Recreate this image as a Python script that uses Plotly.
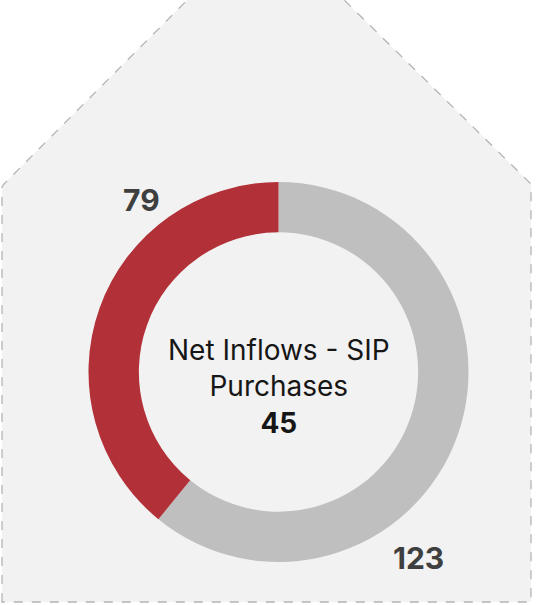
import plotly.graph_objects as go

# Donut segments
labels = ["Net Inflows", "SIP Purchases"]
values = [79, 123]
colors = ["#b23037", "#bfbfbf"]
center_title = "Net Inflows - SIP<br>Purchases"
center_value = 45

W, H = 538, 605
cx, cy, r = 278.5, 372, 190  # donut centre / outer radius in px (from top-left)


def px(x):
    return x / W


def py(y):
    return 1 - y / H


fig = go.Figure()
# Grey slice drawn first (clockwise from 12 o'clock) so the red slice
# closes the ring on the left-hand side.
fig.add_trace(go.Pie(
    labels=labels[::-1],
    values=values[::-1],
    hole=0.735,
    sort=False,
    direction="clockwise",
    rotation=0,
    marker=dict(colors=colors[::-1], line=dict(width=0)),
    textinfo="none",
    hoverinfo="label+value",
    showlegend=False,
    domain=dict(x=[px(cx - r), px(cx + r)], y=[py(cy + r), py(cy - r)]),
))

# House-shaped dashed panel behind the donut
pts = [(2, 602), (2, 187), (4, 184), (265, -78), (531, 184), (531, 602)]
path = "M " + " L ".join(f"{px(x):.5f},{py(y):.5f}" for x, y in pts) + " Z"
fig.add_shape(type="path", path=path, xref="paper", yref="paper",
              fillcolor="#f2f2f2", line=dict(color="#b4b4b4", width=1.3, dash="dash"),
              layer="below")

font_family = "Inter, 'Open Sans', sans-serif"
fig.add_annotation(x=px(cx), y=py(386), xref="paper", yref="paper",
                   xanchor="center", yanchor="middle",
                   text=f"{center_title}<br><b>{center_value}</b>",
                   showarrow=False, align="center",
                   font=dict(family=font_family, size=28, color="#161616"))
fig.add_annotation(x=px(141), y=py(200), xref="paper", yref="paper",
                   xanchor="center", yanchor="middle",
                   text=f"<b>{values[0]}</b>", showarrow=False,
                   font=dict(family=font_family, size=30, color="#3f3f3f"))
fig.add_annotation(x=px(418), y=py(558), xref="paper", yref="paper",
                   xanchor="center", yanchor="middle",
                   text=f"<b>{values[1]}</b>", showarrow=False,
                   font=dict(family=font_family, size=30, color="#3f3f3f"))

fig.update_layout(
    width=W, height=H,
    margin=dict(l=0, r=0, t=0, b=0),
    paper_bgcolor="white",
    plot_bgcolor="white",
)

fig.write_html("out.html")
